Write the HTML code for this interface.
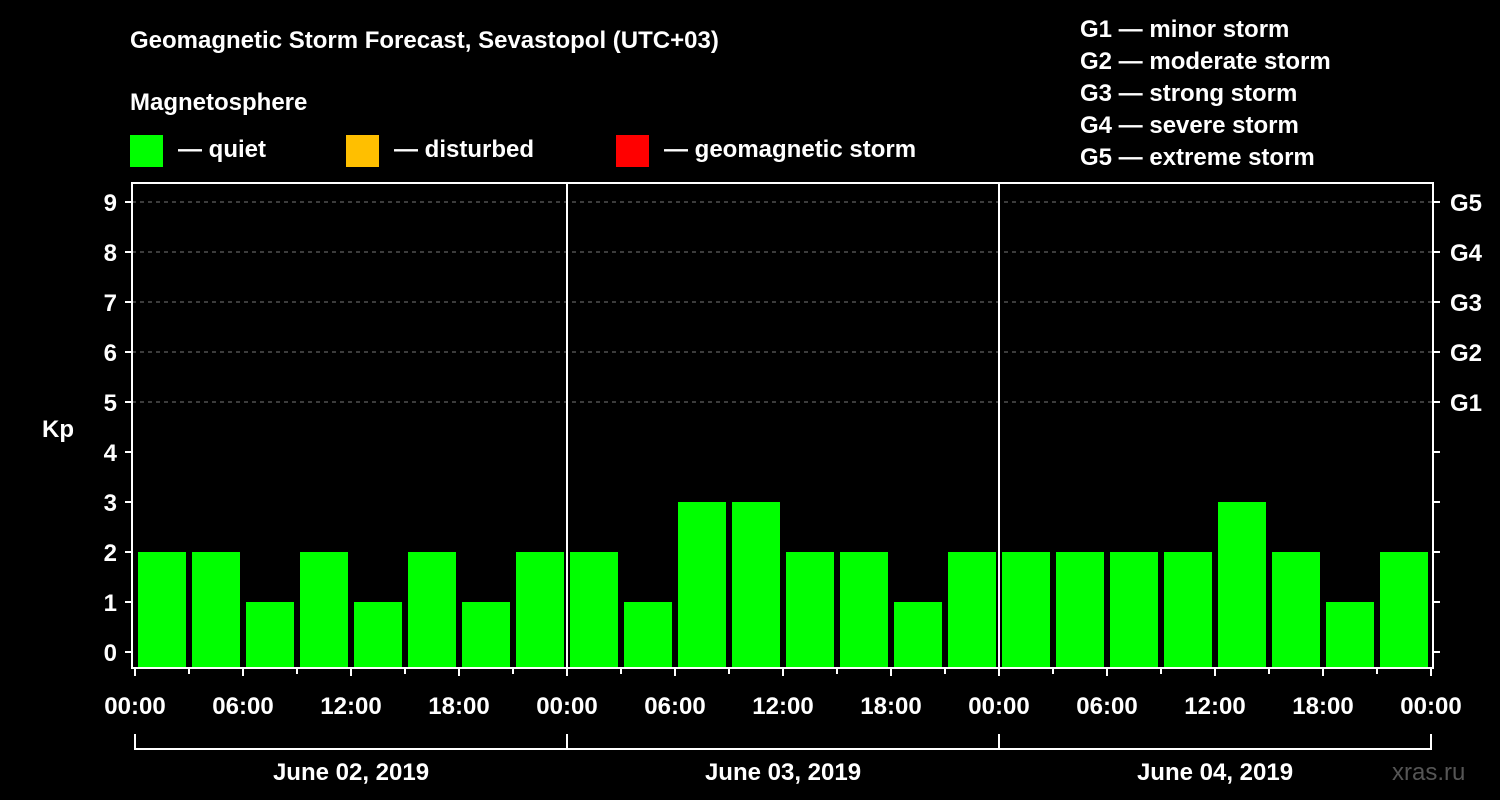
<!DOCTYPE html>
<html><head><meta charset="utf-8"><style>
body{margin:0;background:#000;}
svg{display:block;font-family:"Liberation Sans",sans-serif;font-weight:bold;}
</style></head><body>
<svg id="chart" width="1500" height="800" viewBox="0 0 1500 800">
<rect width="1500" height="800" fill="#000"/>
<g fill="#fff" font-size="24">
<text x="130" y="48">Geomagnetic Storm Forecast, Sevastopol (UTC+03)</text>
<text x="130" y="110">Magnetosphere</text>
</g>
<g font-size="24" fill="#fff">
<rect x="130" y="135" width="33" height="32" fill="#00ff00"/>
<text x="178" y="157">— quiet</text>
<rect x="346" y="135" width="33" height="32" fill="#ffbf00"/>
<text x="394" y="157">— disturbed</text>
<rect x="616" y="135" width="33" height="32" fill="#ff0000"/>
<text x="664" y="157">— geomagnetic storm</text>
</g>
<g font-size="24" fill="#fff">
<text x="1080" y="37">G1 — minor storm</text>
<text x="1080" y="69">G2 — moderate storm</text>
<text x="1080" y="101">G3 — strong storm</text>
<text x="1080" y="133">G4 — severe storm</text>
<text x="1080" y="165">G5 — extreme storm</text>
</g>
<text x="42" y="437" font-size="24" fill="#fff">Kp</text>
<text x="1392" y="780" font-size="24" fill="#555" font-weight="normal">xras.ru</text>
<g id="plot"></g>
</svg>
<script>
const kpValues = [2,2,1,2,1,2,1,2, 2,1,3,3,2,2,1,2, 2,2,2,2,3,2,1,2];
const dayLabels = ["June 02, 2019","June 03, 2019","June 04, 2019"];
const hourLabels = ["00:00","06:00","12:00","18:00"];
const yTicks = [0,1,2,3,4,5,6,7,8,9];
const gLabels = ["G1","G2","G3","G4","G5"];
const gLevels = [5,6,7,8,9];

const NS="http://www.w3.org/2000/svg";
const plot=document.getElementById('plot');
const X0=135, DAYW=432, SLOT=54;
const yScale=v=>652-50*v;
const xScale=i=>X0+SLOT*i;
function mk(tag,attrs,parent){const e=document.createElementNS(NS,tag);for(const k in attrs)e.setAttribute(k,attrs[k]);(parent||plot).appendChild(e);return e;}
// grid
gLevels.forEach((v,i)=>{
 const l=mk('line',{x1:132,x2:1433,y1:yScale(v),y2:yScale(v),stroke:'#777','stroke-dasharray':'4,4','stroke-width':1});
 
 
 const t=mk('text',{x:1450,y:yScale(v)+9,fill:'#fff','font-size':24});
 t.textContent=gLabels[i];
 
 
});
// bars
kpValues.forEach((v,i)=>{
 const top=yScale(v);
 const r=mk('rect',{x:xScale(i)+3,y:top,width:48,height:668-top,fill:'#00ff00'});
 
 
});
// frame
const f=mk('rect',{x:132,y:183,width:1301,height:485,fill:'none',stroke:'#fff','stroke-width':2});


for(let d=1;d<dayLabels.length;d++){
 const l=mk('line',{x1:X0+DAYW*d,x2:X0+DAYW*d,y1:183,y2:668,stroke:'#fff','stroke-width':2});
 
 
}
// y ticks
yTicks.forEach(v=>{
 mk('line',{x1:125,x2:132,y1:yScale(v),y2:yScale(v),stroke:'#fff','stroke-width':2});
 mk('line',{x1:1433,x2:1440,y1:yScale(v),y2:yScale(v),stroke:'#fff','stroke-width':2});
 const t=mk('text',{x:117,y:yScale(v)+9,fill:'#fff','font-size':24,'text-anchor':'end'});
 t.textContent=v;
 
 
});
// x ticks
for(let i=0;i<=kpValues.length;i++){
 const major=i%2===0;
 mk('line',{x1:xScale(i),x2:xScale(i),y1:668,y2:major?676:674,stroke:'#fff','stroke-width':2});
 if(major){
  const t=mk('text',{x:xScale(i),y:714,fill:'#fff','font-size':24,'text-anchor':'middle'});
  t.textContent=hourLabels[(i/2)%4];
  
  
 }
}
// day brackets
mk('line',{x1:X0,x2:X0+DAYW*dayLabels.length,y1:749,y2:749,stroke:'#fff','stroke-width':2});
for(let d=0;d<=dayLabels.length;d++){
 mk('line',{x1:X0+DAYW*d,x2:X0+DAYW*d,y1:734,y2:750,stroke:'#fff','stroke-width':2});
}
dayLabels.forEach((s,d)=>{
 const t=mk('text',{x:X0+DAYW*d+DAYW/2,y:780,fill:'#fff','font-size':24,'text-anchor':'middle'});
 t.textContent=s;
 
 
});
</script>
</body></html>
